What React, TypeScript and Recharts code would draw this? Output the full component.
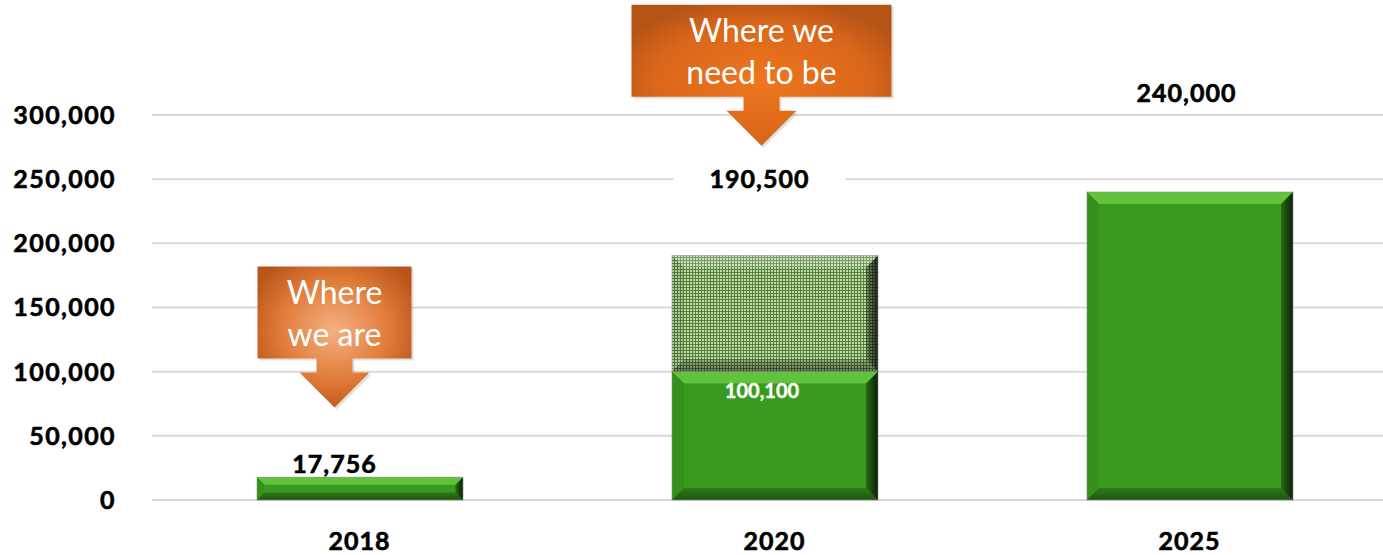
import React from 'react';
import { BarChart, Bar, XAxis, YAxis, CartesianGrid, ReferenceDot, LabelList } from 'recharts';

const categories = ['2018', '2020', '2025'];
const achieved = [17756, 100100, 240000];
const gapToTarget = [0, 90400, 0];
const totals = [17756, 190500, 240000];
const yTicks = [0, 50000, 100000, 150000, 200000, 250000, 300000];
const calloutCats = ['2018', '2020'];
const calloutLines = [['Where', 'we are'], ['Where we', 'need to be']];
const calloutTipValues = [72000, 276000];

// label / callout pixel nudges (presentation only)
const totalLabelNudge = [{ dx: -25, dy: -14 }, { dx: -15, dy: -78 }, { dx: -3, dy: -100 }];
const calloutStyle = [
  { dx: -25, halfW: 77, grad: 'url(#calloutLight)' },
  { dx: -13, halfW: 130, grad: 'url(#calloutDark)' },
];

const data = categories.map((c, i) => ({ cat: c, achieved: achieved[i], gap: gapToTarget[i], total: totals[i] }));

const FONT = 'Lato, "Open Sans", sans-serif';

const fmt = (v: number) => v.toLocaleString('en-US');

const BevelBar = (props: any) => {
  const { x, y, width: w, height: h, fill, patterned } = props;
  if (!h || h <= 0.5) return null;
  const b = Math.min(12, h / 3, w / 3);
  const x2 = x + w, y2 = y + h;
  return (
    <g>
      <rect x={x} y={y} width={w} height={h} fill={fill} />
      <polygon points={`${x},${y} ${x2},${y} ${x2 - b},${y + b} ${x + b},${y + b}`} fill={patterned ? '#ffffff' : '#7CE050'} fillOpacity={patterned ? 0.22 : 0.6} />
      <polygon points={`${x2},${y} ${x2},${y2} ${x2 - b},${y2 - b} ${x2 - b},${y + b}`} fill="url(#rightShade)" />
      <polygon points={`${x},${y2} ${x2},${y2} ${x2 - b},${y2 - b} ${x + b},${y2 - b}`} fill="url(#bottomShade)" />
      <polygon points={`${x},${y} ${x},${y2} ${x + b},${y2 - b} ${x + b},${y + b}`} fill="#000" fillOpacity={0.07} />
      <rect x={x} y={y} width={w} height={h} fill="none" stroke="#8a8a8a" strokeOpacity={0.6} strokeWidth={1} />
    </g>
  );
};

const AchievedShape = (p: any) => <BevelBar {...p} fill="#389A1E" />;
const GapShape = (p: any) => <BevelBar {...p} fill="url(#dots)" patterned />;

const boldText = { fontFamily: FONT, fontWeight: 700, fill: '#000', stroke: '#000', strokeWidth: 0.6 };

const TotalLabel = (i: number) => (p: any) => {
  const { cx, cy } = p;
  if (cx == null || cy == null) return null;
  const n = totalLabelNudge[i];
  const lx = cx + n.dx;
  const ly = cy + n.dy;
  return (
    <g>
      <rect x={lx - 86} y={ly - 13} width={172} height={26} fill="#ffffff" />
      <text x={lx} y={ly} textAnchor="middle" dominantBaseline="central" fontSize={25} letterSpacing={1} {...boldText}>
        {fmt(totals[i])}
      </text>
    </g>
  );
};

const Callout = (i: number) => (p: any) => {
  const { cx, cy } = p;
  if (cx == null || cy == null) return null;
  const s = calloutStyle[i];
  const tx = cx + s.dx;
  const ty = cy;
  const hw = s.halfW;
  const pts = [
    [tx - hw, ty - 141], [tx + hw, ty - 141], [tx + hw, ty - 49], [tx + 18, ty - 49], [tx + 18, ty - 35],
    [tx + 35, ty - 35], [tx, ty], [tx - 35, ty - 35], [tx - 18, ty - 35], [tx - 18, ty - 49], [tx - hw, ty - 49],
  ].map((q) => q.join(',')).join(' ');
  const lines = calloutLines[i];
  return (
    <g>
      <polygon points={pts} fill="#000" fillOpacity={0.12} transform="translate(2,2)" />
      <polygon points={pts} fill={s.grad} />
      {lines.map((t, k) => (
        <text key={k} x={tx} y={ty - 116 + k * 42} textAnchor="middle" dominantBaseline="central" fontFamily={FONT} fontSize={32} fill="#ffffff">
          {t}
        </text>
      ))}
    </g>
  );
};

const InnerLabel = (p: any) => {
  const { x, y, width, index, value } = p;
  const idx = index != null ? index : achieved.indexOf(value);
  if (idx < 0 || !gapToTarget[idx]) return null;
  return (
    <text x={x + width / 2 - 13} y={y + 18} textAnchor="middle" dominantBaseline="central" fontFamily={FONT} fontWeight={700} fontSize={20} fill="#ffffff" stroke="#ffffff" strokeWidth={0.4}>
      {fmt(achieved[idx])}
    </text>
  );
};

export default function App() {
  return (
    <div style={{ position: 'absolute', left: 0, top: 0, width: 1383, height: 555, overflow: 'hidden', background: '#fff' }}>
      <svg width={0} height={0} style={{ position: 'absolute' }}>
        <defs>
          <pattern id="dots" patternUnits="userSpaceOnUse" width={3} height={3}>
            <rect x={0} y={0} width={3} height={3} fill="#557F3F" />
            <rect x={0} y={0} width={2} height={2} fill="#BCDDA2" />
          </pattern>
          <linearGradient id="rightShade" x1="0" y1="0" x2="1" y2="0">
            <stop offset="0%" stopColor="#000" stopOpacity={0.3} />
            <stop offset="100%" stopColor="#000" stopOpacity={0.8} />
          </linearGradient>
          <linearGradient id="bottomShade" x1="0" y1="0" x2="0" y2="1">
            <stop offset="0%" stopColor="#000" stopOpacity={0.2} />
            <stop offset="100%" stopColor="#000" stopOpacity={0.45} />
          </linearGradient>
          <radialGradient id="calloutLight" cx="50%" cy="45%" r="60%">
            <stop offset="0%" stopColor="#F4B183" />
            <stop offset="60%" stopColor="#E07A38" />
            <stop offset="100%" stopColor="#B9541A" />
          </radialGradient>
          <radialGradient id="calloutDark" cx="50%" cy="55%" r="60%">
            <stop offset="0%" stopColor="#EE761E" />
            <stop offset="70%" stopColor="#D9661A" />
            <stop offset="100%" stopColor="#B65416" />
          </radialGradient>
        </defs>
      </svg>
      <BarChart width={1397} height={555} data={data} margin={{ top: 115, right: 0, bottom: 0, left: 0 }} barSize={206}>
        <CartesianGrid vertical={false} stroke="#D9D9D9" strokeWidth={2} />
        <XAxis
          dataKey="cat"
          height={55}
          axisLine={false}
          tickLine={false}
          tickSize={0}
          tickMargin={32}
          interval={0}
          tick={{ ...boldText, fontSize: 25, letterSpacing: 1 }}
        />
        <YAxis
          width={152}
          domain={[0, 300000]}
          ticks={yTicks}
          axisLine={false}
          tickLine={false}
          tickSize={0}
          tickMargin={36}
          tickFormatter={(v: number) => fmt(v)}
          tick={{ ...boldText, fontSize: 25, letterSpacing: 1.4 }}
        />
        <Bar dataKey="achieved" stackId="a" shape={AchievedShape} isAnimationActive={false}>
          <LabelList dataKey="achieved" content={InnerLabel} />
        </Bar>
        <Bar dataKey="gap" stackId="a" shape={GapShape} isAnimationActive={false} />
        {categories.map((c, i) => (
          <ReferenceDot key={'t' + c} x={c} y={totals[i]} r={0} shape={TotalLabel(i)} ifOverflow="visible" />
        ))}
        {calloutCats.map((c, i) => (
          <ReferenceDot key={'c' + c} x={c} y={calloutTipValues[i]} r={0} shape={Callout(i)} ifOverflow="visible" />
        ))}
      </BarChart>
    </div>
  );
}
